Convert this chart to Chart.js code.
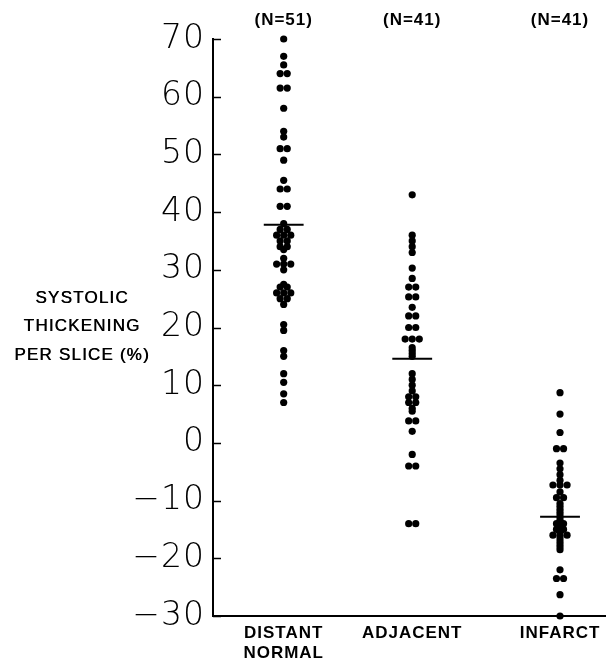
<!DOCTYPE html>
<html>
<head>
<meta charset="utf-8">
<script src="https://cdn.jsdelivr.net/npm/chart.js@4.4.1/dist/chart.umd.min.js"></script>
<style>
	html,body{margin:0;padding:0;background:#fff}
	canvas{display:block}
</style>
</head>
<body>
<canvas id="chart" width="609" height="668"></canvas>
<script>
// data
const groupLabels = [['DISTANT','NORMAL'], ['ADJACENT'], ['INFARCT']];
const groupCounts = ['(N=51)', '(N=41)', '(N=41)'];
const distantNormal = [70, 67, 65.5, 64, 64, 61.5, 61.5, 58, 54, 53, 51, 51, 49, 45.5, 44, 44, 41, 41,
	38, 37, 37, 36, 36, 36, 35, 35, 34, 34, 33.5,
	32, 31, 31, 31, 30,
	27.5, 27, 27, 26, 26, 26, 25, 25, 24,
	20.5, 19.5, 16, 15, 12, 10.5, 8.5, 7];
const adjacent = [43, 36, 35, 34, 33, 30.3, 28.5, 27, 27, 25.3, 25.3, 23.5, 22, 22, 20, 20,
	18, 18, 18, 16.5, 16, 15.5, 15,
	12, 11, 10, 9, 8, 8, 7, 7, 6, 5.5,
	3.8, 3.8, 2, -2, -4, -4, -14, -14];
const infarct = [8.7, 5, 1.8, -1, -1, -3.5, -4.5, -5.5, -6.5, -7.3, -7.3, -7.3,
	-8.5, -9.5, -9.5, -10.5, -11, -11.5, -12, -12.5,
	-13, -13.5, -14, -14, -14.5, -15, -15, -15.5, -16, -16, -16, -16.5, -17, -17.5, -18, -18.5,
	-22, -23.5, -23.5, -26.3, -30];
const groupMeans = [37.8, 14.6, -12.8];
const yTitle = ['SYSTOLIC', 'THICKENING', 'PER SLICE (%)'];

// layout
const colX = [1, 2, 3.15];
const DX = 0.055;      // side-by-side spacing for equal values
const MEAN_HALF = 0.155;

function swarm(vals, cx){
	const counts = {}, seen = {};
	vals.forEach(v => counts[v] = (counts[v]||0) + 1);
	return vals.map(v => {
		const k = seen[v] = (seen[v] === undefined ? 0 : seen[v] + 1);
		return { x: cx + (k - (counts[v]-1)/2) * DX, y: v };
	});
}

const series = [distantNormal, adjacent, infarct];
const datasets = series.map((vals, i) => ({
	type: 'scatter', data: swarm(vals, colX[i]), clip: false,
	pointRadius: 3.6, pointBackgroundColor: '#000', pointBorderWidth: 0
}));
groupMeans.forEach((m, i) => datasets.push({
	type: 'line', data: [{x: colX[i]-MEAN_HALF, y: m}, {x: colX[i]+MEAN_HALF, y: m}],
	borderColor: '#000', borderWidth: 2, pointRadius: 0
}));

const labelFont = { family: 'Liberation Sans, Arial, sans-serif', size: 17, weight: 'bold' };

const decor = {
	id: 'decor',
	beforeDraw(chart){ chart.ctx.letterSpacing = '1px'; },
	afterDraw(chart){
		const {ctx, scales:{y}} = chart;
		ctx.save();
		ctx.strokeStyle = '#000'; ctx.lineWidth = 1.5;
		// inward tick marks
		y.ticks.forEach(t => {
			const py = Math.round(y.getPixelForValue(t.value)) + 0.5;
			ctx.beginPath(); ctx.moveTo(y.right, py); ctx.lineTo(y.right + 8, py); ctx.stroke();
		});
		ctx.fillStyle = '#000';
		ctx.font = '17px "Liberation Sans", Arial, sans-serif';
		ctx.letterSpacing = '1.2px';
		ctx.textAlign = 'center'; ctx.textBaseline = 'middle';
		yTitle.forEach((s, i) => {
			ctx.fillText(s, 82, 298 + i*28.5);
			ctx.fillText(s, 82.5, 298 + i*28.5);
		});
		ctx.restore();
	}
};

new Chart(document.getElementById('chart'), {
	data: { datasets },
	options: {
		responsive: false, animation: false,
		layout: { padding: 0 },
		plugins: { legend: { display: false }, tooltip: { enabled: false } },
		scales: {
			x: {
				type: 'linear', position: 'bottom', min: 0.45, max: 3.5,
				afterBuildTicks: s => { s.ticks = colX.map(v => ({ value: v })); },
				afterFit: s => { s.height = 52; },
				ticks: { autoSkip: false, maxRotation: 0, padding: 7, color: '#000', font: labelFont,
					callback: (v, i) => groupLabels[i] },
				grid: { display: false, drawTicks: false },
				border: { display: true, color: '#000', width: 2 }
			},
			xTop: {
				type: 'linear', position: 'top', min: 0.45, max: 3.5,
				afterBuildTicks: s => { s.ticks = colX.map(v => ({ value: v })); },
				afterFit: s => { s.height = 39; },
				ticks: { autoSkip: false, maxRotation: 0, padding: 8, color: '#000', font: labelFont,
					callback: (v, i) => groupCounts[i] },
				grid: { display: false, drawTicks: false },
				border: { display: false }
			},
			y: {
				type: 'linear', min: -30, max: 70,
				afterFit: s => { s.width = 213; },
				ticks: { stepSize: 10, padding: 8, color: '#000',
					font: { family: 'DejaVu Sans, sans-serif', size: 33, weight: 200 },
					callback: v => String(v).replace('-', '\u2212') },
				grid: { display: false, drawTicks: false },
				border: { display: true, color: '#000', width: 2 }
			}
		}
	},
	plugins: [decor]
});
</script>
</body>
</html>
